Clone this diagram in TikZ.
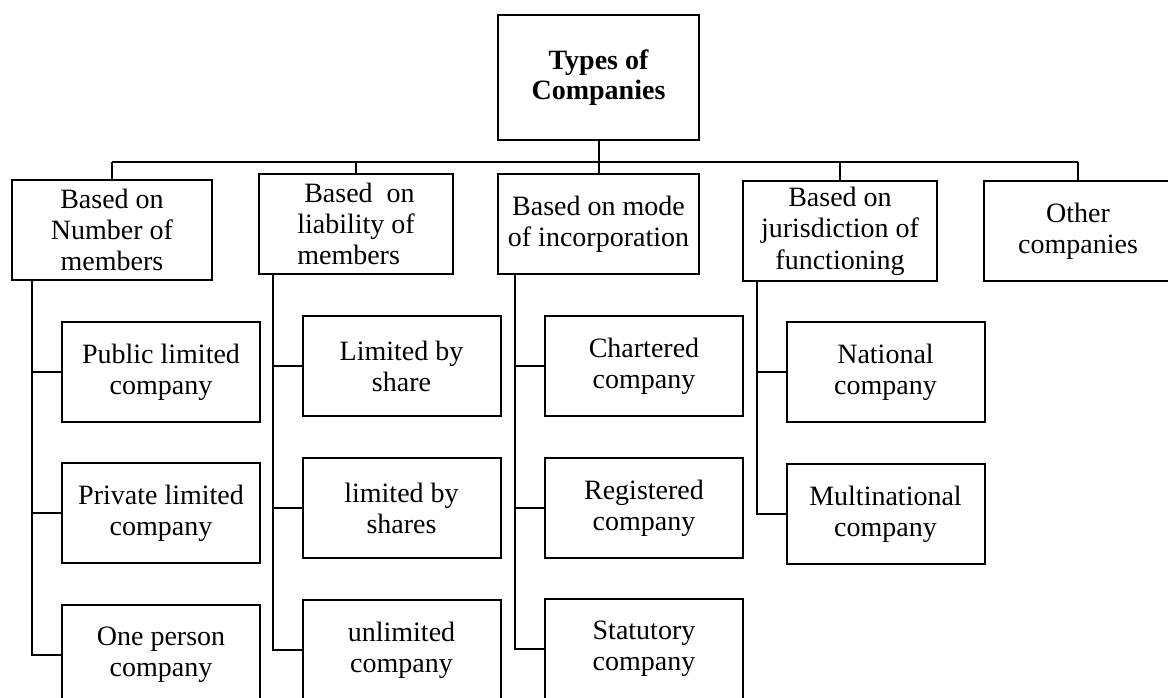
\documentclass[tikz,border=0pt]{standalone}
\usepackage{fontspec}
\setmainfont{Liberation Serif}
\usepackage{tikz}
\usetikzlibrary{positioning}

\begin{document}
\begin{tikzpicture}[x=1pt,y=-1pt,line width=2pt]
                    \tikzstyle{every node}=[font=\fontsize{28}{31}\selectfont]
                    \tikzstyle{box} = [rectangle, draw=black, inner sep=0pt, align=center]
                    \tikzstyle{branch} = [box, minimum width=196, minimum height=100]
                    \tikzstyle{leaf} = [box, minimum width=198, minimum height=100]
                    \tikzstyle{link} = [draw=black]

                    \useasboundingbox (0,0) rectangle (1168,698);

                    % top
                    \node[box, minimum width=201, minimum height=125, font=\fontsize{28}{30}\selectfont\bfseries](c0) at (598.5,77.5) {Types of\\Companies};
                    \coordinate (bus) at (0,162);

                    % second row
                    \node[branch, minimum width=200](c1) at (112,230) {Based on\\Number of\\members};
                    \node[branch, minimum width=194, align=left](c2) at (356,224) {\hspace*{7pt}Based~ on\\liability of\\members};
                    \node[branch, minimum width=201](c3) at (598.5,224) {Based on mode\\of incorporation};
                    \node[branch, minimum width=194](c4) at (840,231) {Based on\\jurisdiction of\\[1pt]functioning};
                    \node[branch, minimum width=188](c5) at (1078,231) {Other\\companies};

                    % leaves
                    \node[leaf](c11) at (161,372) {Public limited\\company};
                    \node[leaf](c12) at (161,513) {Private limited\\company};
                    \node[leaf](c13) at (161,655) {One person\\company};
                    \node[leaf](c21) at (401.5,366) {Limited by\\share};
                    \node[leaf](c22) at (401.5,508) {limited by\\shares};
                    \node[leaf](c23) at (401.5,650) {unlimited\\company};
                    \node[leaf](c31) at (644,366) {Chartered\\company};
                    \node[leaf](c32) at (644,508) {Registered\\company};
                    \node[leaf](c33) at (644,649) {Statutory\\company};
                    \node[leaf](c41) at (885.5,372) {National\\company};
                    \node[leaf](c42) at (885.5,514) {Multinational\\company};

                    % bus and stems
                    \draw[link] (c0.south) -- (c3.north);
                    \draw[link] (c1.north |- bus) -- (c5.north |- bus);
                    \draw[link] (c1.north |- bus) -- (c1.north);
                    \draw[link] (c2.north |- bus) -- (c2.north);
                    \draw[link] (c4.north |- bus) -- (c4.north);
                    \draw[link] (c5.north |- bus) -- (c5.north);

                    % columns
                    \coordinate (k1) at (32,280);
                    \coordinate (k2) at (273,274);
                    \coordinate (k3) at (515,274);
                    \coordinate (k4) at (757,280);
                    \draw[link] (k1) |- (c13.west);
                    \draw[link] (k1 |- c11) -- (c11.west);
                    \draw[link] (k1 |- c12) -- (c12.west);
                    \draw[link] (k2) |- (c23.west);
                    \draw[link] (k2 |- c21) -- (c21.west);
                    \draw[link] (k2 |- c22) -- (c22.west);
                    \draw[link] (k3) |- (c33.west);
                    \draw[link] (k3 |- c31) -- (c31.west);
                    \draw[link] (k3 |- c32) -- (c32.west);
                    \draw[link] (k4) |- (c42.west);
                    \draw[link] (k4 |- c41) -- (c41.west);

            \end{tikzpicture}
\end{document}
